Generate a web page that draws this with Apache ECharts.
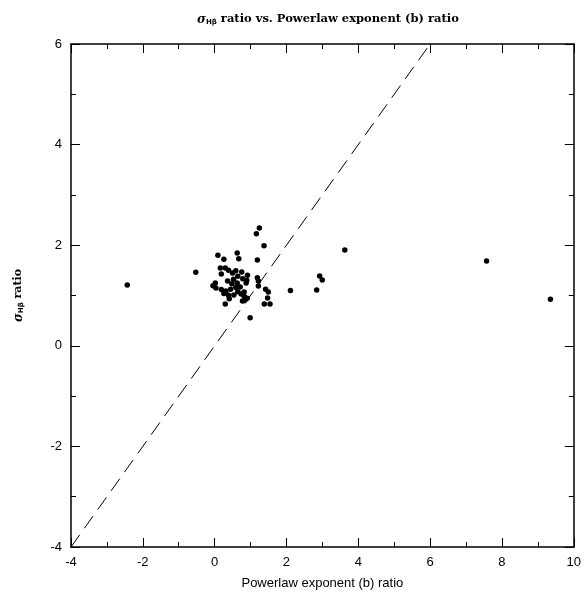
<!DOCTYPE html>
<html><head><meta charset="utf-8">
<script src="https://cdn.jsdelivr.net/npm/echarts@6/dist/echarts.min.js"></script>
<style>html,body{margin:0;padding:0;background:#fff}#c{width:584px;height:595px}</style>
</head><body><div id="c"></div>
<script>
const xTickLabels = [-4, -2, 0, 2, 4, 6, 8, 10];
const yTickLabels = [-4, -2, 0, 2, 4, 6];
const bRatio = [1.245,1.162,1.375,0.091,0.257,0.628,0.672,1.189,0.158,0.296,0.387,0.185,0.498,0.589,0.755,0.913,0.645,0.526,0.783,0.894,1.189,1.217,0.360,0.479,0.628,0.877,0.019,-0.047,0.036,0.711,1.217,0.185,0.313,0.443,0.589,0.645,0.822,0.739,0.257,0.387,0.534,0.822,0.905,0.407,0.775,0.849,0.296,1.419,1.494,1.474,1.383,1.541,0.988,
 -2.434,-0.526,2.111,2.841,2.924,2.996,3.624,7.571,9.350];
const sigmaRatio = [2.341,2.228,1.990,1.800,1.720,1.845,1.732,1.706,1.548,1.548,1.502,1.429,1.448,1.494,1.468,1.403,1.383,1.323,1.335,1.304,1.355,1.290,1.290,1.236,1.250,1.250,1.250,1.196,1.151,1.171,1.190,1.117,1.091,1.125,1.157,1.077,1.071,1.032,1.038,1.006,1.012,0.986,0.946,0.933,0.893,0.913,0.833,1.125,1.071,0.952,0.833,0.833,0.556,
 1.210,1.462,1.097,1.111,1.389,1.310,1.905,1.687,0.927];
const oneToOne = [[-4,-4],[6,6]];

const chart = echarts.init(document.getElementById('c'));
const axisCommon = {
  axisLine:{show:true, onZero:false, lineStyle:{color:'#000', width:1.5}},
  axisTick:{show:true, inside:true, length:9, lineStyle:{color:'#000', width:1}},
  minorTick:{show:true, splitNumber:2, length:5, lineStyle:{color:'#000', width:1}},
  splitLine:{show:false}
};
const lab = {color:'#000', fontFamily:'Liberation Sans, Arial, sans-serif', fontSize:13};
const richSig = {
  s:{fontFamily:'DejaVu Serif', fontStyle:'italic', fontWeight:'bold', fontSize:12, color:'#000'},
  sub:{fontFamily:'DejaVu Sans', fontWeight:'bold', fontSize:7, color:'#000', padding:[6,0,0,0]}
};
chart.setOption({
  animation:false,
  backgroundColor:'#fff',
  title:{
    text:'{s|σ}{sub|Hβ} ratio vs. Powerlaw exponent (b) ratio',
    left:323, textAlign:'center', top:8,
    textStyle:{fontFamily:'DejaVu Serif', fontWeight:'bold', fontSize:11.5, color:'#000', rich:richSig}
  },
  grid:{left:71, right:7, top:44, bottom:47},
  xAxis:[
    Object.assign({type:'value', min:-4, max:10, interval:2, position:'bottom',
      name:'Powerlaw exponent (b) ratio', nameLocation:'middle', nameGap:30,
      nameTextStyle:lab,
      axisLabel:Object.assign({margin:9, formatter:v=>xTickLabels.includes(v)?String(v):''}, lab)}, axisCommon),
    Object.assign({type:'value', min:-4, max:10, interval:2, position:'top', axisLabel:{show:false}}, axisCommon)
  ],
  yAxis:[
    Object.assign({type:'value', min:-4, max:6, interval:2, position:'left',
      name:'{s|σ}{sub|Hβ} ratio', nameLocation:'middle', nameGap:46, nameRotate:90,
      nameTextStyle:{fontFamily:'DejaVu Serif', fontWeight:'bold', fontSize:11, color:'#000', rich:richSig},
      axisLabel:Object.assign({margin:9, formatter:v=>yTickLabels.includes(v)?String(v):''}, lab)}, axisCommon),
    Object.assign({type:'value', min:-4, max:6, interval:2, position:'right', axisLabel:{show:false}}, axisCommon)
  ],
  series:[
    {type:'line', data:oneToOne, showSymbol:false, symbol:'none', clip:true,
     lineStyle:{color:'#000', width:1, type:[15,8]}, z:1},
    {type:'scatter', data:bRatio.map((x,i)=>[x, sigmaRatio[i]]), symbol:'circle', symbolSize:5.5,
     itemStyle:{color:'#000', opacity:1}, z:3}
  ]
});
</script></body></html>
